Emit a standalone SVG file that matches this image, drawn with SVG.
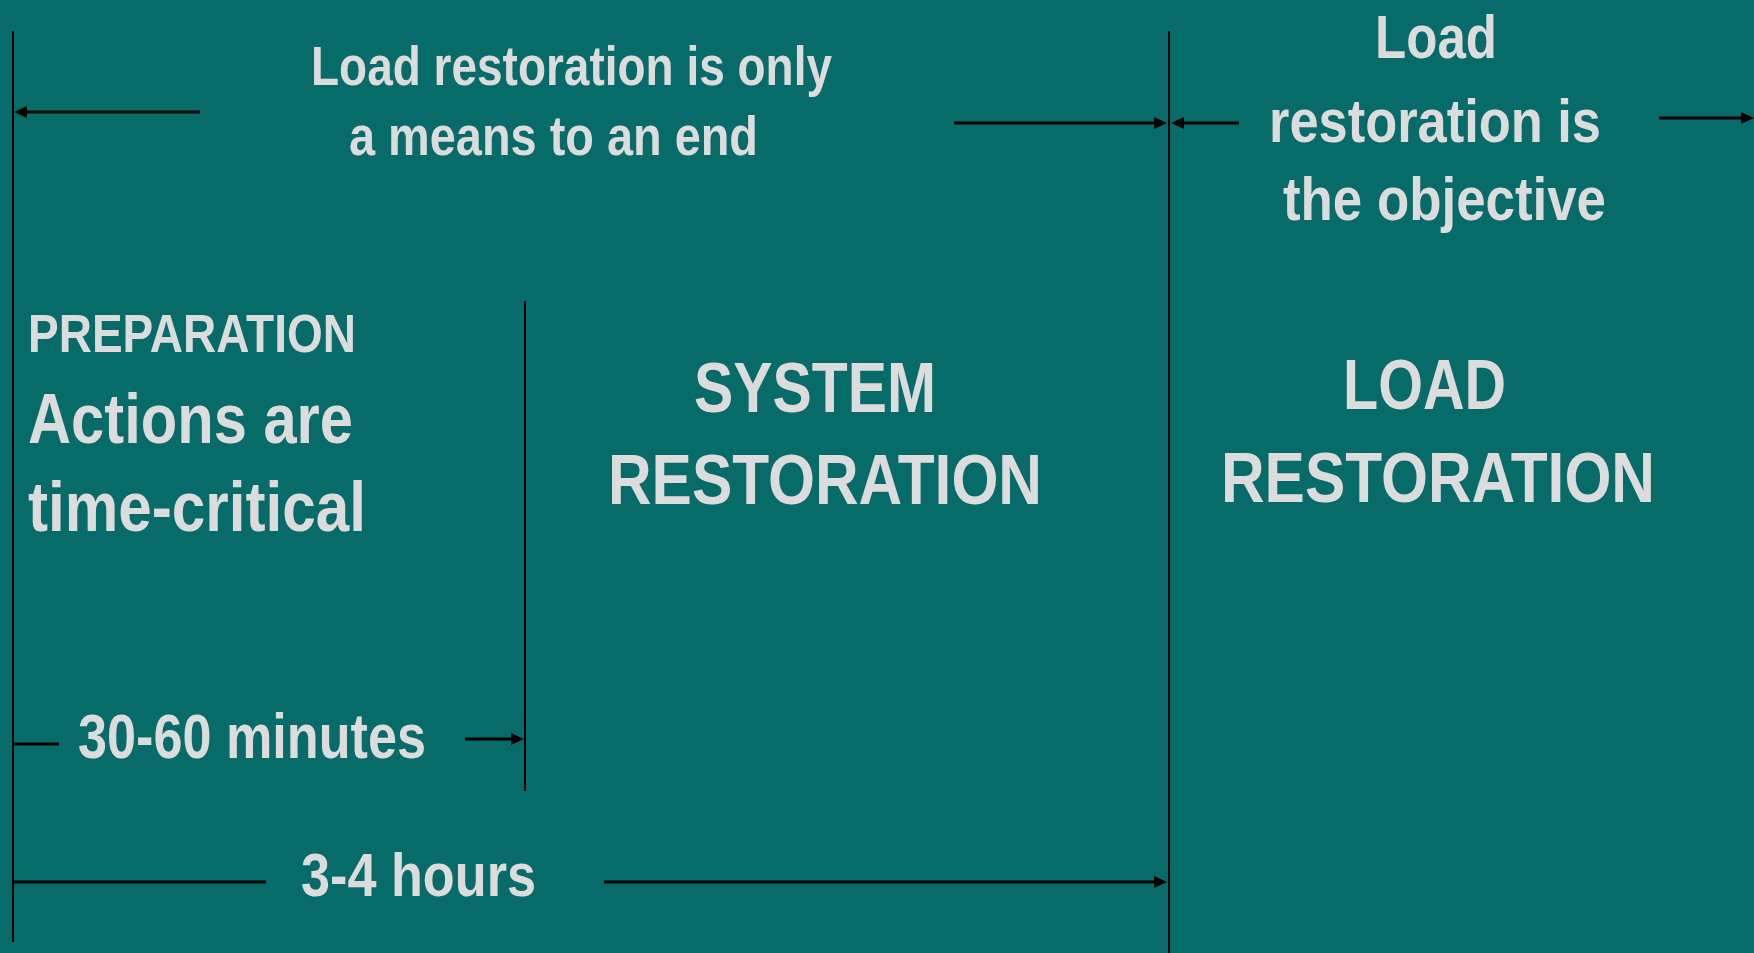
<svg xmlns="http://www.w3.org/2000/svg" width="1754" height="953" viewBox="0 0 1754 953">
<style>
.t{font-family:"Liberation Sans","Arial",sans-serif;font-weight:bold;fill:#dcdcdc}
.v{stroke:#000;stroke-width:2;fill:none}
.a{stroke:#000;stroke-width:3;fill:none;marker-end:url(#ah)}
.p{stroke:#000;stroke-width:3;fill:none}
</style>
<defs>
<marker id="ah" markerUnits="userSpaceOnUse" markerWidth="13" markerHeight="13" refX="9" refY="6" orient="auto">
<path d="M0,0 L13,6 L0,12 z" fill="#000"/>
</marker>
</defs>
<rect width="1754" height="953" fill="#076c69"/>
<g id="connectors">
<line class="v" x1="13" y1="31" x2="13" y2="942"/>
<line class="v" x1="1169" y1="31" x2="1169" y2="953"/>
<line class="v" x1="525" y1="301" x2="525" y2="791"/>
<line class="a" x1="200" y1="112" x2="18" y2="112"/>
<line class="a" x1="954" y1="123" x2="1163" y2="123"/>
<line class="a" x1="1239" y1="123" x2="1175" y2="123"/>
<line class="a" x1="1659" y1="118" x2="1750" y2="118"/>
<line class="p" x1="14" y1="744" x2="59" y2="744"/>
<line class="a" x1="465" y1="739" x2="520" y2="739"/>
<line class="p" x1="14" y1="882" x2="266" y2="882"/>
<line class="a" x1="604" y1="882" x2="1163" y2="882"/>
</g>
<g id="means">
<text class="t" x="311" y="85" font-size="56" textLength="521" lengthAdjust="spacingAndGlyphs">Load restoration is only</text>
<text class="t" x="349" y="155" font-size="56" textLength="409" lengthAdjust="spacingAndGlyphs">a means to an end</text>
</g>
<g id="objective">
<text class="t" x="1375" y="58" font-size="62" textLength="122" lengthAdjust="spacingAndGlyphs">Load</text>
<text class="t" x="1269" y="142" font-size="62" textLength="332" lengthAdjust="spacingAndGlyphs">restoration is</text>
<text class="t" x="1283" y="220" font-size="62" textLength="323" lengthAdjust="spacingAndGlyphs">the objective</text>
</g>
<g id="preparation">
<text class="t" x="28" y="352" font-size="54" textLength="328" lengthAdjust="spacingAndGlyphs">PREPARATION</text>
<text class="t" x="28" y="443" font-size="70" textLength="325" lengthAdjust="spacingAndGlyphs">Actions are</text>
<text class="t" x="28" y="531" font-size="70" textLength="338" lengthAdjust="spacingAndGlyphs">time-critical</text>
</g>
<g id="system">
<text class="t" x="694" y="412" font-size="70" textLength="242" lengthAdjust="spacingAndGlyphs">SYSTEM</text>
<text class="t" x="608" y="504" font-size="70" textLength="434" lengthAdjust="spacingAndGlyphs">RESTORATION</text>
</g>
<g id="load">
<text class="t" x="1343" y="409" font-size="70" textLength="163" lengthAdjust="spacingAndGlyphs">LOAD</text>
<text class="t" x="1221" y="502" font-size="70" textLength="434" lengthAdjust="spacingAndGlyphs">RESTORATION</text>
</g>
<g id="minutes">
<text class="t" x="78" y="758" font-size="63" textLength="348" lengthAdjust="spacingAndGlyphs">30-60 minutes</text>
</g>
<g id="hours">
<text class="t" x="301" y="896" font-size="62" textLength="235" lengthAdjust="spacingAndGlyphs">3-4 hours</text>
</g>
</svg>
